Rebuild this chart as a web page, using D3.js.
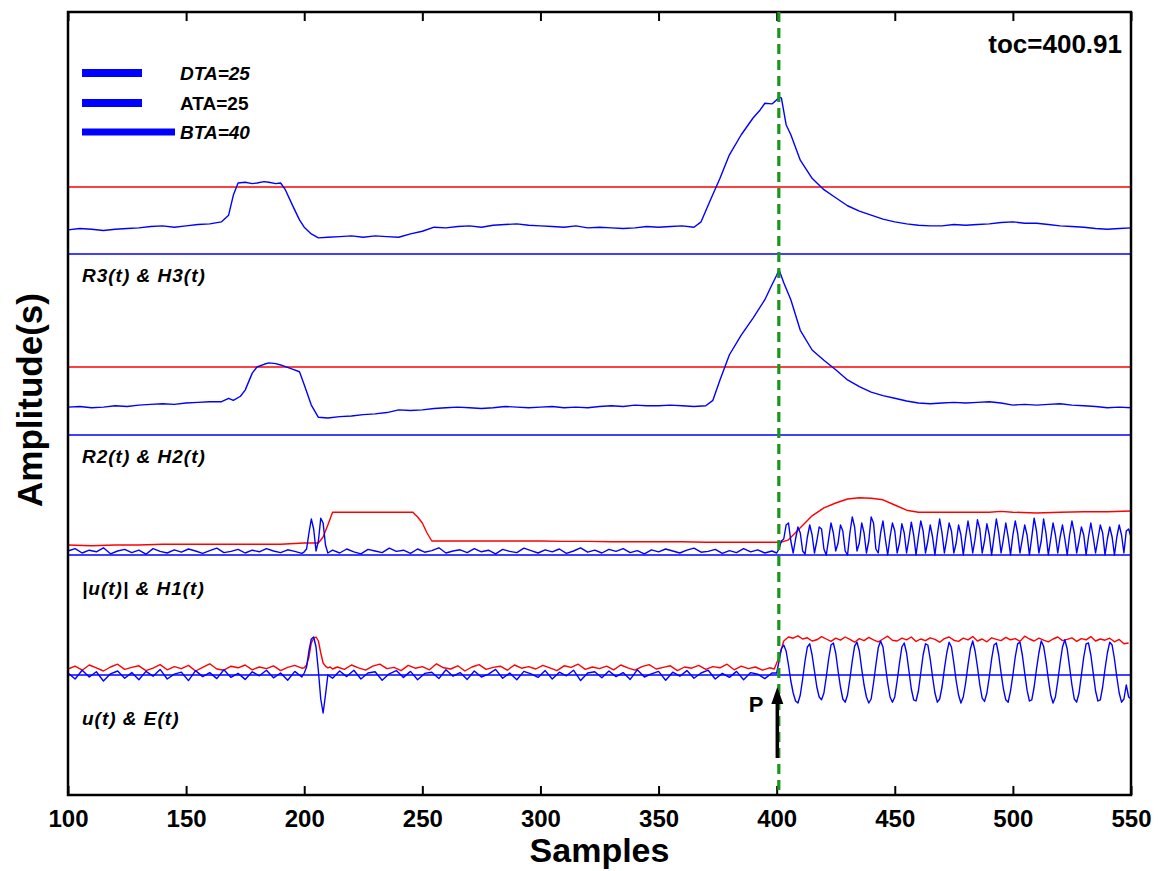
<!DOCTYPE html>
<html><head><meta charset="utf-8">
<script src="https://cdn.jsdelivr.net/npm/d3@7"></script>
<style>
html,body{margin:0;padding:0;background:#fff;}
svg{display:block;font-family:"Liberation Sans",Arial,sans-serif;}
</style></head>
<body>
<svg id="c" width="1161" height="871"></svg>
<script>
// ---------------- DATA ----------------
const xTicks = [100,150,200,250,300,350,400,450,500,550];
const tocValue = 400.91;
const legendNames = ["DTA=25","ATA=25","BTA=40"];
const panelLabels = ["R3(t) & H3(t)","R2(t) & H2(t)","|u(t)| & H1(t)","u(t) & E(t)"];
const h3Level = 1.0;
const h2Level = 1.0;

// R3(t) panel 1: [sample, value]
const r3 = [[100,0.36],[105,0.38],[110,0.37],[115,0.35],[120,0.37],[125,0.38],[130,0.39],[135,0.41],[140,0.42],[145,0.40],[150,0.42],[155,0.44],[160,0.45],[165,0.48],[168,0.58],[170,0.88],[172,1.06],[175,1.07],[178,1.05],[180,1.06],[183,1.08],[185,1.07],[188,1.05],[190,1.06],[192,0.96],[195,0.73],[198,0.51],[200,0.40],[203,0.30],[206,0.24],[210,0.25],[215,0.26],[220,0.27],[225,0.25],[230,0.27],[235,0.26],[240,0.25],[245,0.30],[250,0.34],[255,0.40],[260,0.39],[265,0.41],[270,0.42],[275,0.40],[280,0.43],[285,0.44],[290,0.45],[295,0.43],[300,0.42],[305,0.41],[310,0.40],[315,0.42],[320,0.39],[325,0.40],[330,0.39],[335,0.38],[340,0.39],[345,0.41],[350,0.40],[355,0.41],[360,0.42],[365,0.40],[368,0.48],[372,0.81],[376,1.13],[380,1.48],[385,1.78],[390,2.03],[393,2.15],[395,2.25],[398,2.24],[400,2.30],[401,2.34],[402,2.33],[404,1.93],[406,1.78],[410,1.40],[415,1.13],[420,0.96],[425,0.84],[430,0.72],[435,0.64],[440,0.58],[445,0.52],[450,0.48],[455,0.45],[460,0.43],[465,0.42],[470,0.42],[475,0.44],[480,0.43],[485,0.44],[490,0.45],[495,0.47],[500,0.48],[505,0.46],[510,0.46],[515,0.44],[520,0.42],[525,0.41],[530,0.40],[535,0.38],[540,0.37],[545,0.38],[550,0.39]];

// R2(t) panel 2
const r2 = [[100,0.41],[105,0.42],[110,0.40],[115,0.41],[120,0.43],[125,0.42],[130,0.44],[135,0.45],[140,0.46],[145,0.45],[150,0.47],[155,0.48],[160,0.49],[165,0.49],[168,0.54],[170,0.51],[173,0.57],[175,0.66],[178,0.91],[180,1.00],[183,1.04],[185,1.06],[188,1.05],[190,1.03],[195,0.97],[198,0.93],[200,0.74],[203,0.44],[206,0.26],[210,0.25],[215,0.27],[220,0.28],[225,0.30],[230,0.31],[235,0.33],[240,0.37],[245,0.36],[250,0.37],[255,0.39],[260,0.40],[265,0.41],[270,0.40],[275,0.39],[280,0.40],[285,0.42],[290,0.41],[295,0.40],[300,0.41],[305,0.42],[310,0.40],[315,0.41],[320,0.40],[325,0.42],[330,0.43],[335,0.42],[340,0.44],[345,0.43],[350,0.43],[355,0.44],[360,0.43],[365,0.42],[370,0.43],[373,0.51],[376,0.81],[380,1.18],[385,1.47],[390,1.72],[395,1.99],[398,2.21],[400,2.35],[401,2.43],[403,2.24],[406,1.99],[410,1.54],[415,1.25],[420,1.10],[425,0.96],[430,0.81],[435,0.71],[440,0.63],[445,0.58],[450,0.54],[455,0.50],[460,0.47],[465,0.46],[470,0.47],[475,0.48],[480,0.47],[485,0.48],[490,0.49],[495,0.47],[500,0.44],[505,0.45],[510,0.44],[515,0.45],[520,0.46],[525,0.44],[530,0.43],[535,0.42],[540,0.40],[545,0.41],[550,0.40]];

// H1(t) panel 3 (red)
const h1 = [[100,0.25],[110,0.23],[120,0.25],[130,0.25],[140,0.27],[150,0.27],[160,0.27],[170,0.27],[180,0.27],[190,0.27],[200,0.30],[206,0.30],[208,0.45],[210,0.75],[212,1.07],[220,1.07],[230,1.07],[240,1.07],[246,1.07],[248,0.95],[250,0.80],[252,0.55],[254,0.35],[260,0.35],[270,0.35],[280,0.35],[290,0.35],[300,0.35],[310,0.34],[320,0.34],[330,0.33],[340,0.33],[350,0.33],[360,0.33],[370,0.32],[380,0.32],[390,0.32],[398,0.32],[402,0.32],[405,0.38],[410,0.68],[415,0.98],[420,1.18],[425,1.30],[430,1.40],[435,1.43],[440,1.42],[445,1.38],[450,1.25],[455,1.12],[460,1.07],[470,1.07],[480,1.07],[490,1.07],[495,1.09],[500,1.07],[510,1.05],[520,1.07],[530,1.08],[540,1.08],[550,1.10]];

// |u(t)| panel 3 (blue)
const absU_a = [0.10,0.16,0.05,0.12,0.08,0.18,0.03,0.10,0.14,0.06,0.12,0.02,0.16,0.09,0.05,0.13,0.07,0.15,0.10,0.04,0.11,0.17,0.06,0.09,0.14,0.05,0.12,0.08,0.16,0.10,0.06,0.13,0.09,0.04];
const absU_b = [0.08,0.15,0.55,0.90,0.65,0.10,0.35,0.92,0.80,0.25,0.05];
const absU_c = [0.12,0.05,0.15,0.08,0.03,0.14,0.10,0.06,0.17,0.09,0.12,0.04,0.15,0.07,0.11,0.18,0.05,0.10,0.13,0.06,0.16,0.08,0.12,0.03,0.14,0.09,0.06,0.17,0.11,0.05,0.13,0.08,0.15,0.04,0.10,0.18,0.07,0.12,0.05,0.14,0.09,0.16,0.06,0.11,0.03,0.13,0.08,0.15,0.10,0.05,0.12,0.17,0.07,0.09,0.14,0.04,0.11,0.06,0.16,0.08,0.13,0.05,0.10];
const absU_d = [0.05,0.15,0.35,0.40,0.75,0.80,0.35,0.05,0.40,0.70,
0.55,0.10,0.02,0.45,0.75,0.50,0.05,0.35,0.70,0.65,
0.15,0.00,0.40,0.80,0.55,0.10,0.30,0.75,0.60,0.10,
0.00,0.55,0.95,0.70,0.10,0.30,0.80,0.55,0.05,0.35,
0.95,0.80,0.15,0.05,0.55,0.85,0.40,0.00,0.45,0.80,
0.60,0.05,0.30,0.78,0.55,0.05,0.40,0.82,0.50,0.00,
0.45,0.85,0.60,0.05,0.35,0.75,0.45,0.00,0.50,0.90,
0.55,0.05,0.40,0.80,0.60,0.05,0.30,0.75,0.50,0.00,
0.45,0.85,0.50,0.05,0.40,0.88,0.65,0.05,0.35,0.78,
0.50,0.00,0.45,0.90,0.55,0.05,0.40,0.80,0.45,0.00,
0.50,0.85,0.55,0.05,0.40,0.75,0.50,0.00,0.45,0.92,
0.60,0.05,0.35,0.90,0.55,0.00,0.40,0.80,0.50,0.05,
0.45,0.75,0.40,0.00,0.50,0.85,0.55,0.05,0.35,0.70,
0.50,0.00,0.45,0.80,0.45,0.05,0.40,0.75,0.55,0.00,
0.40,0.70,0.45,0.00,0.45,0.75,0.50,0.05,0.60,0.65,
0.45];

// u(t) panel 4 (blue)
const u_a = [0.05,-0.10,0.12,-0.05,0.08,-0.15,0.03,0.10,-0.08,0.06,-0.12,0.09,-0.03,0.14,-0.10,0.02,0.07,-0.14,0.11,-0.04,0.06,-0.09,0.13,-0.06,0.04,-0.11,0.08,-0.02,0.12,-0.07,0.05,-0.13,0.09,-0.05];
const u_b = [0.05,0.20,0.60,0.90,0.95,0.70,0.10,-0.60,-0.95,-0.50,0.00];
const u_c = [-0.08,0.10,-0.04,0.12,-0.10,0.05,0.08,-0.13,0.03,0.11,-0.06,0.09,-0.12,0.04,0.07,-0.09,0.13,-0.03,0.06,-0.11,0.10,-0.05,0.02,0.14,-0.08,0.05,-0.12,0.09,0.03,-0.06,0.11,-0.10,0.07,-0.02,0.12,-0.14,0.05,0.08,-0.07,0.10,-0.04,0.06,-0.11,0.13,-0.05,0.03,0.09,-0.13,0.07,-0.03,0.11,-0.08,0.05,0.12,-0.10,0.04,-0.06,0.09,-0.12,0.06,0.02,-0.09,0.05];
const u_d = [0.05,0.35,0.65,0.75,0.60,0.25,-0.15,-0.45,-0.65,-0.70,
-0.50,-0.10,0.35,0.70,0.78,0.50,0.10,-0.30,-0.55,-0.62,
-0.45,-0.05,0.40,0.75,0.80,0.55,0.10,-0.30,-0.60,-0.68,
-0.50,-0.10,0.35,0.72,0.82,0.60,0.15,-0.25,-0.55,-0.70,
-0.60,-0.20,0.25,0.68,0.85,0.70,0.25,-0.20,-0.55,-0.68,
-0.55,-0.15,0.30,0.70,0.80,0.55,0.10,-0.35,-0.62,-0.65,
-0.40,0.05,0.50,0.78,0.75,0.40,-0.05,-0.45,-0.68,-0.60,
-0.30,0.15,0.55,0.82,0.70,0.30,-0.15,-0.50,-0.70,-0.55,
-0.20,0.25,0.65,0.85,0.60,0.20,-0.25,-0.58,-0.66,-0.45,
-0.05,0.40,0.75,0.80,0.50,0.05,-0.35,-0.62,-0.68,-0.40,
0.00,0.45,0.78,0.82,0.50,0.05,-0.38,-0.65,-0.62,-0.30,
0.15,0.55,0.85,0.72,0.35,-0.10,-0.50,-0.70,-0.55,-0.15,
0.30,0.70,0.88,0.65,0.20,-0.25,-0.60,-0.68,-0.45,0.00,
0.45,0.78,0.80,0.50,0.05,-0.40,-0.65,-0.62,-0.30,0.15,
0.55,0.82,0.75,0.40,-0.05,-0.45,-0.68,-0.60,-0.25,-0.55,
-0.60];

// E(t) panel 4 (red)
const e_a = [0.15,0.22,0.12,0.25,0.18,0.10,0.20,0.27,0.14,0.19,0.23,0.11,0.17,0.26,0.13,0.21,0.16,0.24,0.10,0.19,0.28,0.15,0.12,0.22,0.18,0.25,0.13,0.20,0.16,0.23,0.11,0.19,0.24,0.17];
const e_b = [0.18,0.25,0.45,0.80,0.92,0.95,0.85,0.55,0.30,0.22,0.18,0.20,0.15];
const e_c = [0.20,0.14,0.25,0.18,0.12,0.22,0.27,0.16,0.19,0.11,0.24,0.17,0.21,0.13,0.28,0.18,0.15,0.23,0.10,0.20,0.26,0.14,0.19,0.22,0.12,0.25,0.17,0.21,0.15,0.24,0.18,0.11,0.23,0.19,0.27,0.14,0.20,0.16,0.22,0.13,0.25,0.18,0.12,0.21,0.26,0.15,0.19,0.23,0.11,0.20,0.17,0.24,0.14,0.21,0.18,0.27,0.13,0.22,0.16,0.20,0.12,0.18];
const e_d = [0.15,0.45,0.85,0.95,0.92,0.98,0.90,0.93,0.85,0.88,0.96,0.90,0.84,0.92,0.87,0.95,0.89,0.82,0.91,0.86,0.94,0.88,0.83,0.90,0.97,0.87,0.85,0.92,0.88,0.95,0.84,0.90,0.86,0.93,0.89,0.82,0.91,0.95,0.87,0.84,0.92,0.88,0.96,0.85,0.90,0.83,0.93,0.89,0.86,0.94,0.88,0.91,0.84,0.97,0.90,0.85,0.92,0.87,0.83,0.90,0.95,0.86,0.89,0.93,0.84,0.91,0.88,0.96,0.85,0.90,0.87,0.92,0.83,0.89,0.78,0.80];

// ---------------- DRAW ----------------
const seg = (start, step, vals) => vals.map((v,i) => [start + i*step, v]);
const absU = [].concat(seg(100,3,absU_a), seg(200,1,absU_b), seg(212,3,absU_c), seg(400,1,absU_d));
const uSig = [].concat(seg(100,3,u_a), seg(200,1,u_b), seg(212,3,u_c), seg(400,1,u_d));
const eSig = [].concat(seg(100,3,e_a), seg(200,1,e_b), seg(214,3,e_c), seg(399,2,e_d));

const L = 68, R = 1131, T = 12, B = 795;
const svg = d3.select("#c");
const x = d3.scaleLinear().domain([100,550]).range([L,R]);

const panels = [
  {base:254, unit:67},
  {base:435, unit:68},
  {base:555, unit:40},
  {base:675, unit:40}
];
const ys = panels.map(p => d3.scaleLinear().domain([0,1]).range([p.base, p.base - p.unit]));

const g = svg.append("g");
const line = y => d3.line().x(d => x(d[0])).y(d => y(d[1]));
const BLUE = "#0000ff", RED = "#ff0000";

// baselines
ys.forEach(y => {
  g.append("line").attr("x1",L).attr("x2",R).attr("y1",y(0)).attr("y2",y(0))
   .attr("stroke",BLUE).attr("stroke-width",1.6);
});
// threshold lines H3, H2
g.append("line").attr("x1",L).attr("x2",R).attr("y1",ys[0](h3Level)).attr("y2",ys[0](h3Level)).attr("stroke",RED).attr("stroke-width",1.4);
g.append("line").attr("x1",L).attr("x2",R).attr("y1",ys[1](h2Level)).attr("y2",ys[1](h2Level)).attr("stroke",RED).attr("stroke-width",1.4);

const path = (data, y, color, w) => g.append("path").datum(data).attr("d", line(y))
  .attr("fill","none").attr("stroke",color).attr("stroke-width",w).attr("stroke-linejoin","round");

path(r3, ys[0], BLUE, 1.4);
path(r2, ys[1], BLUE, 1.4);
path(h1, ys[2], RED, 1.4);
path(absU, ys[2], BLUE, 1.4);
path(eSig, ys[3], RED, 1.4);
path(uSig, ys[3], BLUE, 1.4);

// axes
const axB = svg.append("g").attr("transform",`translate(0,${B})`)
  .call(d3.axisBottom(x).tickValues(xTicks).tickSize(-9).tickPadding(10).tickFormat(d3.format("d")));
const axT = svg.append("g").attr("transform",`translate(0,${T})`)
  .call(d3.axisTop(x).tickValues(xTicks).tickSize(-9).tickFormat(""));
[axB, axT].forEach(a => { a.select(".domain").remove(); a.selectAll("line").attr("stroke","#000").attr("stroke-width",2); });
axB.selectAll("text").attr("font-size",24).attr("font-weight","bold").attr("fill","#000")
  .attr("font-family","'Liberation Sans',Arial,sans-serif").attr("dy","0.9em");

// frame
svg.append("rect").attr("x",L).attr("y",T).attr("width",R-L).attr("height",B-T)
  .attr("fill","none").attr("stroke","#000").attr("stroke-width",2.5);

// green dashed line at toc
svg.append("line").attr("x1",x(tocValue)).attr("x2",x(tocValue)).attr("y1",T).attr("y2",B)
  .attr("stroke","#1a961a").attr("stroke-width",3.2).attr("stroke-dasharray","10,6");

// arrow P
const ax = x(tocValue) - 1.5;
svg.append("line").attr("x1",ax).attr("x2",ax).attr("y1",758).attr("y2",702)
  .attr("stroke","#000").attr("stroke-width",3.5);
svg.append("path").attr("d",`M${ax},687 L${ax-6},704 L${ax+6},704 Z`).attr("fill","#000");
svg.append("text").attr("x",ax-14).attr("y",712).attr("text-anchor","end")
  .attr("font-size",22).attr("font-weight","bold").text("P");

// legend
const legY = [73,103,132], legEnd = [142,142,175], legW = [8,8,7];
legendNames.forEach((n,i) => {
  svg.append("line").attr("x1",82).attr("x2",legEnd[i]).attr("y1",legY[i]).attr("y2",legY[i])
    .attr("stroke",BLUE).attr("stroke-width",legW[i]);
  svg.append("text").attr("x",180).attr("y",legY[i]+7).attr("font-size",19).attr("font-weight","bold")
    .attr("font-style", i===1 ? "normal" : "italic").text(n);
});

// toc text
svg.append("text").attr("x",1122).attr("y",53).attr("text-anchor","end").attr("font-size",26)
  .attr("font-weight","bold").text("toc=" + tocValue.toFixed(2));

// panel labels
const labY = [282,463,595,725];
panelLabels.forEach((t,i) => {
  svg.append("text").attr("x",82).attr("y",labY[i]).attr("font-size",19).attr("font-weight","bold")
    .attr("font-style","italic").attr("letter-spacing",1).text(t);
});

// axis titles
svg.append("text").attr("x",(L+R)/2).attr("y",862).attr("text-anchor","middle").attr("font-size",34)
  .attr("font-weight","bold").text("Samples");
svg.append("text").attr("transform","translate(42,400) rotate(-90)").attr("text-anchor","middle")
  .attr("font-size",35).attr("font-weight","bold").text("Amplitude(s)");
</script>
</body></html>
